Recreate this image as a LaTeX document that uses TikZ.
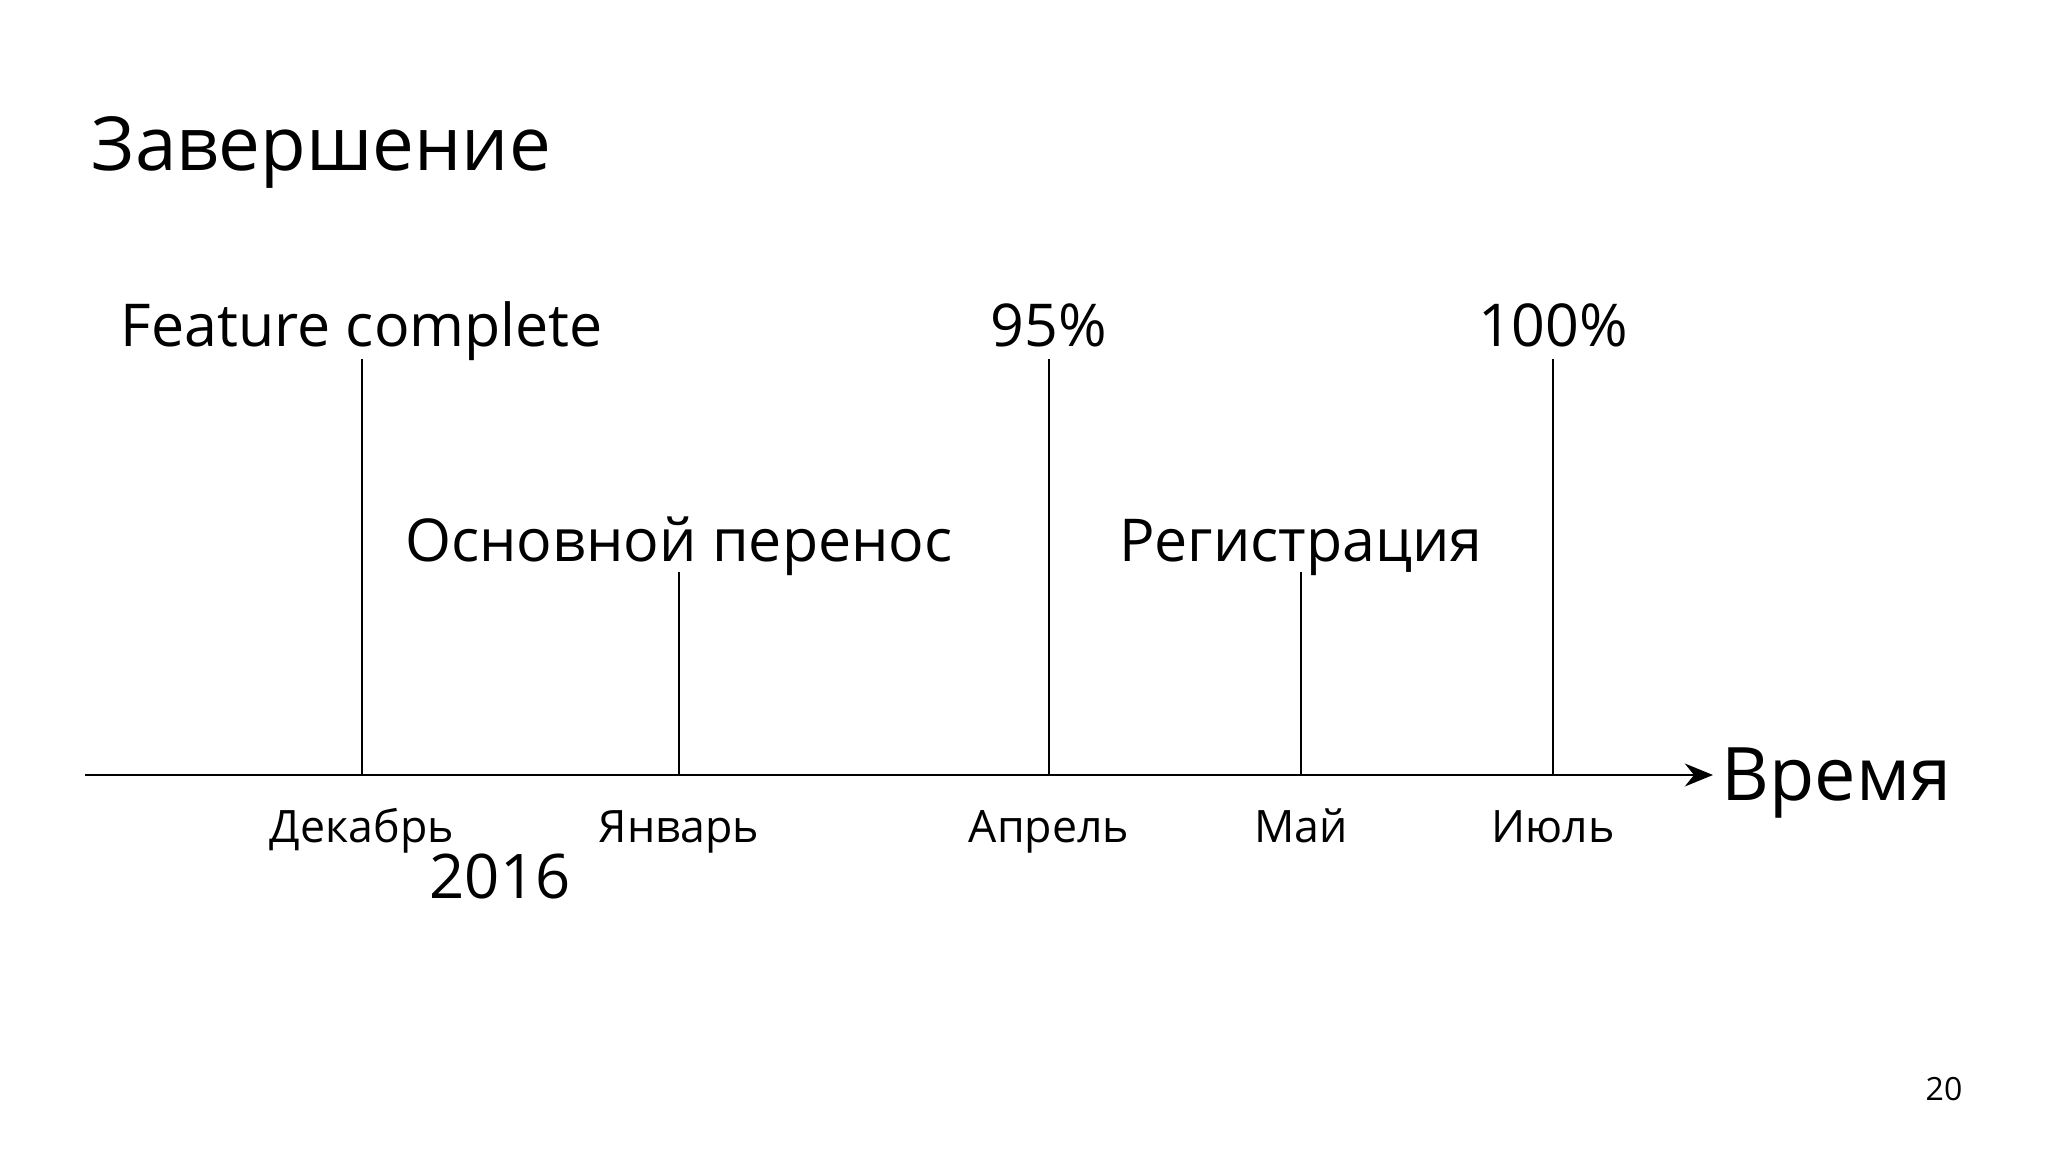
\documentclass[tikz,border=0pt]{standalone}
\usepackage{fontspec}
\setmainfont{Open Sans}
\usetikzlibrary{arrows.meta}

\begin{document}
\begin{tikzpicture}[x=0.01cm,y=-0.01cm,
    lbl/.style={anchor=base,inner sep=0,font=\fontsize{16.8}{18}\selectfont},
    month/.style={anchor=base,inner sep=0,font=\fontsize{12.7}{14}\selectfont},
    mark line/.style={line width=0.7pt}]
  \useasboundingbox (0,0) rectangle (2048,1152);

  \node (title) at (91,171) [anchor=base west,inner sep=0,font=\fontsize{21.2}{25}\selectfont]{Завершение};

  % axis
  \coordinate (start) at (85,775);
  \coordinate (end) at (1713,775);
  \draw[line width=0.8pt,-{Stealth[length=8pt,width=6.5pt]}] (start) -- (end);
  \node (time) at (1721,800) [anchor=base west,inner sep=0,font=\fontsize{21}{24}\selectfont]{Время};

  % points on the axis
  \coordinate (dec) at (362,775);
  \coordinate (jan) at (679,775);
  \coordinate (apr) at (1049,775);
  \coordinate (may) at (1301,775);
  \coordinate (jul) at (1553,775);

  \coordinate (decTop) at (362,359);
  \coordinate (janTop) at (679,572);
  \coordinate (aprTop) at (1049,359);
  \coordinate (mayTop) at (1301,572);
  \coordinate (julTop) at (1553,359);

  \node (fc) at (362,347) [lbl]{Feature complete};
  \node (move) at (679,562) [lbl]{Основной перенос};
  \node (p95) at (1049,347) [lbl]{95\%};
  \node (reg) at (1301,562) [lbl]{Регистрация};
  \node (p100) at (1553,347) [lbl]{100\%};

  \draw[mark line] (dec) -- (decTop);
  \draw[mark line] (jan) -- (janTop);
  \draw[mark line] (apr) -- (aprTop);
  \draw[mark line] (may) -- (mayTop);
  \draw[mark line] (jul) -- (julTop);

  % months
  \node (mdec) at (362,842) [month]{Декабрь};
  \node (mjan) at (679,842) [month]{Январь};
  \node (mapr) at (1049,842) [month]{Апрель};
  \node (mmay) at (1301,842) [month]{Май};
  \node (mjul) at (1553,842) [month]{Июль};
  \node (year) at (500,898) [anchor=base,inner sep=0,font=\fontsize{17.5}{20}\selectfont]{2016};

  \node (page) at (1944,1100) [anchor=base,inner sep=0,font=\fontsize{9.1}{11}\selectfont]{20};
\end{tikzpicture}
\end{document}
